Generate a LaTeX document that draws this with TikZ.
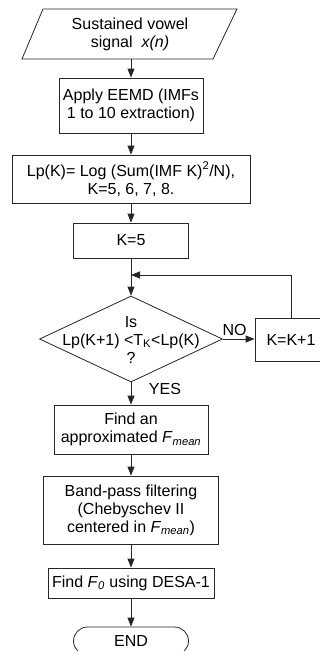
\documentclass[tikz,border=0pt]{standalone}
\usepackage{fontspec}
\setmainfont{Liberation Sans}
\usetikzlibrary{shapes.geometric,shapes.misc,arrows.meta}
\begin{document}
\begin{tikzpicture}[x=1pt,y=-1pt,
  every node/.style={font=\fontsize{16}{18}\selectfont, inner sep=0pt, align=center},
  lineb/.style={line width=0.8pt, draw=black!85},
  procbox/.style={draw=black!85, line width=0.8pt, fill=white},
  arr/.style={-{Triangle[length=9pt,width=7pt]}, line width=0.8pt, draw=black!85}]
\useasboundingbox (0,0) rectangle (320,651);
% input parallelogram
\coordinate (p1) at (43,9);
\coordinate (p2) at (237,9);
\coordinate (p3) at (213,59);
\coordinate (p4) at (22,59);
\draw[lineb] (p1) -- (p2) -- (p3) -- (p4) -- cycle;
\node (in) at (130,34) {Sustained vowel\\signal\ \ \textit{x(n)}};
\coordinate (inb) at (131,59);
\node[procbox, minimum width=144pt, minimum height=55pt] (eemd) at (131,105.5) {Apply EEMD (IMFs\\1 to 10 extraction)};
\node[procbox, minimum width=238pt, minimum height=48pt] (lp) at (131,179) {Lp(K)= Log (Sum(IMF K)\textsuperscript{2}/N),\\K=5, 6, 7, 8.};
\node[procbox, minimum width=115pt, minimum height=35pt] (k5) at (131,240.5) {K=5};
\node[diamond, procbox, minimum width=183pt, minimum height=86pt] (dec) at (131,339) {};
\node (dectext) at (131,339.5) {Is\\Lp(K+1) <T\textsubscript{K}<Lp(K)\\?};
\node[procbox, minimum width=72pt, minimum height=43pt] (kinc) at (291,339.5) {K=K+1};
\node (no) at (234.5,330) {NO};
\node (yes) at (165,389) {YES};
\node[procbox, minimum width=154pt, minimum height=49pt] (fm) at (131,429.5) {Find an\\approximated \textit{F}\textsubscript{\textit{mean}}};
\node[procbox, minimum width=175pt, minimum height=68pt] (bp) at (131,510) {Band-pass filtering\\(Chebyschev II\\centered in \textit{F}\textsubscript{\textit{mean}})};
\node[procbox, minimum width=166pt, minimum height=30pt] (f0) at (131,583) {Find \textit{F}\textsubscript{\textit{0}} using DESA-1};
\node[rounded rectangle, procbox, minimum width=115pt, minimum height=28pt] (end) at (131,641) {END};
\coordinate (join) at (131,275);
% connectors
\draw[arr] (inb) -- (eemd);
\draw[arr] (eemd) -- (lp);
\draw[arr] (lp) -- (k5);
\draw[arr] (k5) -- (dec);
\draw[arr] (dec.east) -- (dec.east -| kinc.west);
\draw[arr] (kinc.north) |- (join);
\draw[arr] (dec) -- (fm);
\draw[arr] (fm) -- (bp);
\draw[arr] (bp) -- (f0);
\draw[arr] (f0) -- (end);
\end{tikzpicture}
\end{document}
